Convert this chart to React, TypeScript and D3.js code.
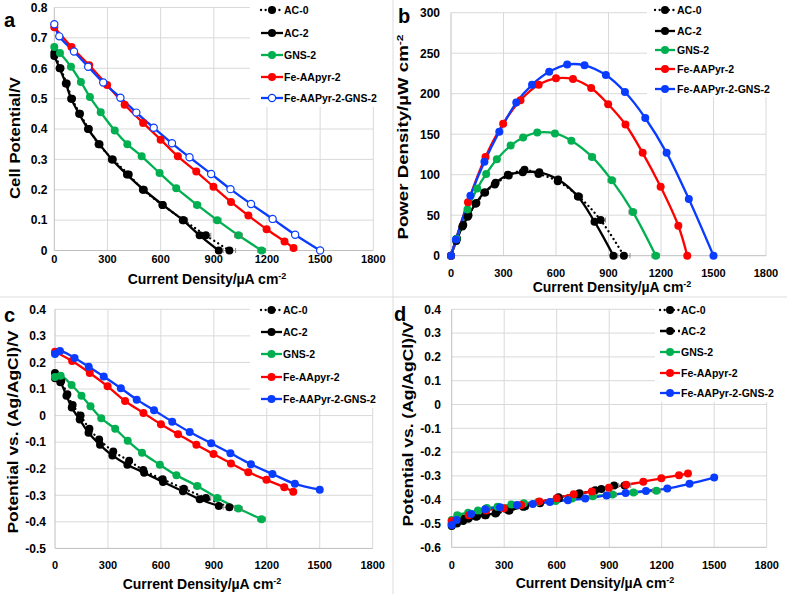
import React from "react";
import * as d3 from "d3";

// ---------- tick labels ----------
const CURRENT_TICKS = [0, 300, 600, 900, 1200, 1500, 1800];
const CELL_TICKS = [0, 0.1, 0.2, 0.3, 0.4, 0.5, 0.6, 0.7, 0.8];
const POWER_TICKS = [0, 50, 100, 150, 200, 250, 300];
const CATHODE_TICKS = [-0.5, -0.4, -0.3, -0.2, -0.1, 0, 0.1, 0.2, 0.3, 0.4];
const ANODE_TICKS = [-0.6, -0.5, -0.4, -0.3, -0.2, -0.1, 0, 0.1, 0.2, 0.3, 0.4];

// ---------- series names ----------
const NAMES_A = ["AC-0", "AC-2", "GNS-2", "Fe-AApyr-2", "Fe-AAPyr-2-GNS-2"];
const NAMES_B = ["AC-0", "AC-2", "GNS-2", "Fe-AAPyr-2", "Fe-AAPyr-2-GNS-2"];
const NAMES_C = ["AC-0", "AC-2", "GNS-2", "Fe-AApyr-2", "Fe-AAPyr-2-GNS-2"];
const NAMES_D = ["AC-0", "AC-2", "GNS-2", "Fe-AApyr-2", "Fe-AAPyr-2-GNS-2"];

// ---------- AC-0 ----------
const AC0_I = [0, 35, 70, 100, 145, 195, 250, 330, 420, 500, 610, 730, 855, 988];
const AC0_CELL = [0.65, 0.6, 0.55, 0.5, 0.45, 0.4, 0.35, 0.3, 0.25, 0.2, 0.15, 0.1, 0.05, 0];
const AC0_POWER = [0, 21, 38, 50, 65, 78, 88, 99, 106, 101, 92, 73, 44, 0];
const AC0_CATHODE = [0.16, 0.13, 0.08, 0.04, 0, -0.05, -0.09, -0.135, -0.17, -0.205, -0.24, -0.275, -0.31, -0.345];
const AC0_ANODE = [-0.5, -0.49, -0.48, -0.475, -0.47, -0.465, -0.458, -0.445, -0.428, -0.41, -0.39, -0.373, -0.355, -0.34];
const AC0_ERR = [0, 0, 0, 0, 0, 0, 0, 0, 0, 0, 0, 22, 28, 35];

// ---------- AC-2 ----------
const AC2_I = [0, 30, 65, 95, 140, 190, 255, 325, 410, 505, 612, 725, 820, 928];
const AC2_CELL = [0.64, 0.6, 0.55, 0.5, 0.45, 0.4, 0.35, 0.3, 0.25, 0.2, 0.15, 0.1, 0.05, 0];
const AC2_POWER = [0, 18, 36, 48, 64, 78, 90, 100, 103, 103, 94, 73, 42, 0];
const AC2_CATHODE = [0.14, 0.125, 0.075, 0.03, -0.015, -0.065, -0.11, -0.15, -0.185, -0.215, -0.25, -0.285, -0.315, -0.34];
const AC2_ANODE = [-0.51, -0.5, -0.49, -0.48, -0.472, -0.465, -0.455, -0.445, -0.43, -0.415, -0.395, -0.377, -0.36, -0.34];
const AC2_ERR = [0, 0, 0, 0, 0, 0, 0, 0, 0, 0, 0, 15, 15, 0];

// ---------- GNS-2 ----------
const GNS_I = [0, 32, 94, 150, 201, 262, 341, 412, 493, 594, 688, 806, 919, 1039, 1170];
const GNS_CELL = [0.67, 0.65, 0.605, 0.555, 0.505, 0.455, 0.395, 0.35, 0.31, 0.255, 0.205, 0.15, 0.1, 0.05, 0];
const GNS_POWER = [0, 21, 57, 83, 101, 119, 136, 146, 152, 151, 142, 122, 93, 54, 0];
const GNS_CATHODE = [0.145, 0.15, 0.115, 0.075, 0.035, -0.01, -0.05, -0.095, -0.14, -0.185, -0.225, -0.265, -0.31, -0.35, -0.39];
const GNS_ANODE = [-0.485, -0.465, -0.455, -0.445, -0.435, -0.43, -0.42, -0.415, -0.41, -0.405, -0.395, -0.385, -0.378, -0.37, -0.362];
const GNS_ERR = [0, 15, 0, 0, 0, 0, 0, 0, 0, 0, 0, 20, 22, 22, 22];

// ---------- Fe-AAPyr-2 ----------
const FE_I = [0, 97, 197, 298, 397, 501, 600, 697, 801, 898, 997, 1095, 1198, 1299, 1350];
const FE_CELL = [0.735, 0.67, 0.61, 0.545, 0.48, 0.42, 0.365, 0.31, 0.26, 0.21, 0.16, 0.115, 0.07, 0.03, 0.008];
const FE_POWER = [0, 66, 122, 163, 192, 211, 219, 218, 207, 187, 162, 127, 85, 37, 0];
const FE_CATHODE = [0.24, 0.205, 0.16, 0.11, 0.055, 0.01, -0.033, -0.07, -0.11, -0.145, -0.18, -0.213, -0.242, -0.27, -0.287];
const FE_ANODE = [-0.49, -0.465, -0.445, -0.436, -0.422, -0.408, -0.394, -0.377, -0.366, -0.35, -0.337, -0.325, -0.31, -0.297, -0.29];
const FE_ERR = [0, 0, 0, 0, 0, 0, 0, 0, 0, 0, 0, 0, 0, 0, 0];

// ---------- Fe-AAPyr-2-GNS-2 ----------
const FEG_I = [0, 28, 111, 191, 276, 373, 463, 561, 664, 763, 885, 994, 1110, 1232, 1359, 1500];
const FEG_CELL = [0.745, 0.705, 0.655, 0.605, 0.553, 0.503, 0.454, 0.404, 0.353, 0.307, 0.252, 0.202, 0.153, 0.104, 0.052, 0];
const FEG_POWER = [0, 20, 74, 116, 153, 189, 211, 227, 236, 235, 223, 202, 170, 127, 70, 0];
const FEG_CATHODE = [0.232, 0.243, 0.217, 0.184, 0.147, 0.103, 0.06, 0.02, -0.023, -0.062, -0.104, -0.142, -0.183, -0.22, -0.257, -0.279];
const FEG_ANODE = [-0.506, -0.485, -0.46, -0.44, -0.432, -0.422, -0.418, -0.41, -0.402, -0.395, -0.382, -0.372, -0.363, -0.353, -0.333, -0.307];
const FEG_ERR = [0, 15, 0, 0, 0, 0, 0, 0, 0, 0, 0, 0, 0, 0, 0, 0];

const COLORS = ["#000000", "#000000", "#00b050", "#ff0000", "#0a3cff"];
const FONT = "Arial, 'Liberation Sans', sans-serif";

type Series = {
  color: string;
  I: number[];
  V: number[];
  err: number[];
  dash: string | null;
  open: boolean;
};

type PanelProps = {
  letter: string;
  letterPos: [number, number];
  x0: number;
  x1: number;
  yTop: number;
  yBot: number;
  yDomain: [number, number];
  yTicks: number[];
  yLabelRight: number;
  xLabelBase: number;
  yTitle: string;
  yTitleSup?: string;
  yTitlePos: [number, number];
  yTitleLen: number;
  xTitlePos: [number, number];
  series: Series[];
  names: string[];
  legend: { bg: [number, number, number, number]; rows: number[]; lx0: number; lx1: number; tx: number };
};

function Panel(p: PanelProps) {
  const x = d3.scaleLinear().domain([0, 1800]).range([p.x0, p.x1]);
  const y = d3.scaleLinear().domain(p.yDomain).range([p.yBot, p.yTop]);
  const line = d3
    .line<[number, number]>()
    .x((d) => x(d[0]))
    .y((d) => y(d[1]))
    .curve(d3.curveCatmullRom.alpha(0.5));
  const [bx, by, bw, bh] = p.legend.bg;
  return (
    <g>
      {/* gridlines */}
      {p.yTicks.map((t) =>
        t === p.yDomain[0] ? null : (
          <line key={"gy" + t} x1={p.x0} x2={p.x1} y1={y(t)} y2={y(t)} stroke="#d9d9d9" strokeWidth={1} />
        )
      )}
      {CURRENT_TICKS.map((t) =>
        t === 0 ? null : (
          <line key={"gx" + t} x1={x(t)} x2={x(t)} y1={p.yTop} y2={p.yBot} stroke="#d9d9d9" strokeWidth={1} />
        )
      )}
      {/* axes */}
      <line x1={p.x0} x2={p.x0} y1={p.yTop} y2={p.yBot} stroke="#bfbfbf" strokeWidth={1} />
      <line x1={p.x0} x2={p.x1} y1={p.yBot} y2={p.yBot} stroke="#bfbfbf" strokeWidth={1} />
      {/* tick labels */}
      {p.yTicks.map((t) => (
        <text
          key={"ty" + t}
          x={p.yLabelRight}
          y={y(t) + 4.3}
          textAnchor="end"
          fontSize={12}
          fontWeight="bold"
          fontFamily={FONT}
        >
          {String(t)}
        </text>
      ))}
      {CURRENT_TICKS.map((t) => (
        <text key={"tx" + t} x={x(t)} y={p.xLabelBase} textAnchor="middle" fontSize={11} fontWeight="bold" fontFamily={FONT}>
          {String(t)}
        </text>
      ))}
      {/* titles */}
      <text
        transform={`translate(${p.yTitlePos[0]},${p.yTitlePos[1]}) rotate(-90)`}
        textAnchor="middle"
        dy={5}
        fontSize={14}
        fontWeight="bold"
        fontFamily={FONT}
        textLength={p.yTitleLen}
        lengthAdjust="spacingAndGlyphs"
      >
        {p.yTitle}
        {p.yTitleSup ? (
          <tspan dy={-5} fontSize={9}>
            {p.yTitleSup}
          </tspan>
        ) : null}
      </text>
      <text x={p.xTitlePos[0]} y={p.xTitlePos[1] + 5} textAnchor="middle" fontSize={14} fontWeight="bold" fontFamily={FONT}>
        Current Density/µA cm
        <tspan dy={-5} fontSize={9}>
          -2
        </tspan>
      </text>
      <text x={p.letterPos[0]} y={p.letterPos[1]} fontSize={20} fontWeight="bold" fontFamily={FONT}>
        {p.letter}
      </text>
      {/* legend background */}
      <rect x={bx} y={by} width={bw} height={bh} fill="#ffffff" />
      {/* series lines */}
      {p.series.map((s, i) => {
        const pts: [number, number][] = s.I.map((v, k) => [v, s.V[k]]);
        return (
          <path
            key={"l" + i}
            d={line(pts) || ""}
            fill="none"
            stroke={s.color}
            strokeWidth={2.3}
            strokeDasharray={s.dash || undefined}
            strokeLinecap={s.dash && s.dash.startsWith("0") ? "round" : "butt"}
          />
        );
      })}
      {/* error bars */}
      {p.series.map((s, i) =>
        s.I.map((v, k) =>
          s.err[k] > 0 ? (
            <g key={"e" + i + "-" + k} stroke="#8c8c8c" strokeWidth={1}>
              <line x1={x(v - s.err[k])} x2={x(v + s.err[k])} y1={y(s.V[k])} y2={y(s.V[k])} />
              <line x1={x(v - s.err[k])} x2={x(v - s.err[k])} y1={y(s.V[k]) - 2.5} y2={y(s.V[k]) + 2.5} />
              <line x1={x(v + s.err[k])} x2={x(v + s.err[k])} y1={y(s.V[k]) - 2.5} y2={y(s.V[k]) + 2.5} />
            </g>
          ) : null
        )
      )}
      {/* markers */}
      {p.series.map((s, i) =>
        s.I.map((v, k) => (
          <circle
            key={"m" + i + "-" + k}
            cx={x(v)}
            cy={y(s.V[k])}
            r={s.open ? 3.6 : 4}
            fill={s.open ? "#ffffff" : s.color}
            stroke={s.color}
            strokeWidth={s.open ? 1.2 : 0}
          />
        ))
      )}
      {/* legend */}
      {p.series.map((s, i) => {
        const ry = p.legend.rows[i];
        const mx = (p.legend.lx0 + p.legend.lx1) / 2;
        return (
          <g key={"lg" + i}>
            <line
              x1={p.legend.lx0}
              x2={p.legend.lx1}
              y1={ry}
              y2={ry}
              stroke={s.color}
              strokeWidth={2.3}
              strokeDasharray={s.dash || undefined}
              strokeLinecap={s.dash && s.dash.startsWith("0") ? "round" : "butt"}
            />
            <circle
              cx={mx}
              cy={ry}
              r={s.open ? 3.6 : 4}
              fill={s.open ? "#ffffff" : s.color}
              stroke={s.color}
              strokeWidth={s.open ? 1.2 : 0}
            />
            <text x={p.legend.tx} y={ry + 4} fontSize={10.5} fontWeight="bold" fontFamily={FONT}>
              {p.names[i]}
            </text>
          </g>
        );
      })}
    </g>
  );
}

function makeSeries(
  vals: number[][],
  opts: { dash2?: string | null; openBlue?: boolean }
): Series[] {
  const Is = [AC0_I, AC2_I, GNS_I, FE_I, FEG_I];
  const errs = [AC0_ERR, AC2_ERR, GNS_ERR, FE_ERR, FEG_ERR];
  return vals.map((V, i) => ({
    color: COLORS[i],
    I: Is[i],
    V,
    err: errs[i],
    dash: i === 0 ? "0.1,4.5" : i === 1 ? opts.dash2 || null : null,
    open: i === 4 && !!opts.openBlue,
  }));
}

export default function App() {
  const sA = makeSeries([AC0_CELL, AC2_CELL, GNS_CELL, FE_CELL, FEG_CELL], { openBlue: true });
  const sB = makeSeries([AC0_POWER, AC2_POWER, GNS_POWER, FE_POWER, FEG_POWER], {});
  const sC = makeSeries([AC0_CATHODE, AC2_CATHODE, GNS_CATHODE, FE_CATHODE, FEG_CATHODE], {});
  const sD = makeSeries([AC0_ANODE, AC2_ANODE, GNS_ANODE, FE_ANODE, FEG_ANODE], { dash2: "6,3" });
  return (
    <svg
      width={787}
      height={594}
      style={{ position: "absolute", left: 0, top: 0, background: "#ffffff" }}
      xmlns="http://www.w3.org/2000/svg"
    >
      <rect x={0} y={0} width={787} height={594} fill="#ffffff" />
      <line x1={393} x2={393} y1={0} y2={594} stroke="#dcdcdc" strokeWidth={1} />
      <line x1={0} x2={787} y1={297} y2={297} stroke="#dcdcdc" strokeWidth={1} />
      <Panel
        letter="a"
        letterPos={[4, 27]}
        x0={54.3}
        x1={373.3}
        yTop={7.5}
        yBot={250.5}
        yDomain={[0, 0.8]}
        yTicks={CELL_TICKS}
        yLabelRight={47.5}
        xLabelBase={262.5}
        yTitle="Cell Potential/V"
        yTitlePos={[15, 138]}
        yTitleLen={122}
        xTitlePos={[207, 279]}
        series={sA}
        names={NAMES_A}
        legend={{ bg: [250, 0, 137, 107], rows: [10, 33, 55, 77, 98], lx0: 261, lx1: 283, tx: 284 }}
      />
      <Panel
        letter="b"
        letterPos={[398, 23]}
        x0={451}
        x1={766}
        yTop={12.7}
        yBot={255.7}
        yDomain={[0, 300]}
        yTicks={POWER_TICKS}
        yLabelRight={440}
        xLabelBase={277}
        yTitle="Power Density/µW cm"
        yTitleSup="-2"
        yTitlePos={[403, 137]}
        yTitleLen={205}
        xTitlePos={[612, 287]}
        series={sB}
        names={NAMES_B}
        legend={{ bg: [647, 0, 140, 97], rows: [10, 31, 50, 69, 89], lx0: 655, lx1: 675, tx: 677 }}
      />
      <Panel
        letter="c"
        letterPos={[4, 322]}
        x0={55}
        x1={372.7}
        yTop={309.3}
        yBot={548.4}
        yDomain={[-0.5, 0.4]}
        yTicks={CATHODE_TICKS}
        yLabelRight={46}
        xLabelBase={568.5}
        yTitle="Potential vs. (Ag/AgCl)/V"
        yTitlePos={[13, 432]}
        yTitleLen={203}
        xTitlePos={[202, 584]}
        series={sC}
        names={NAMES_C}
        legend={{ bg: [250, 298, 137, 110], rows: [310, 332, 354, 377, 399], lx0: 261, lx1: 282, tx: 283 }}
      />
      <Panel
        letter="d"
        letterPos={[394, 321]}
        x0={451.7}
        x1={766.7}
        yTop={309.3}
        yBot={547.3}
        yDomain={[-0.6, 0.4]}
        yTicks={ANODE_TICKS}
        yLabelRight={441}
        xLabelBase={569}
        yTitle="Potential vs. (Ag/AgCl)/V"
        yTitlePos={[408, 424]}
        yTitleLen={205}
        xTitlePos={[595, 583]}
        series={sD}
        names={NAMES_D}
        legend={{ bg: [655, 298, 132, 104], rows: [310, 331, 352, 373, 393], lx0: 660, lx1: 680, tx: 681 }}
      />
    </svg>
  );
}
